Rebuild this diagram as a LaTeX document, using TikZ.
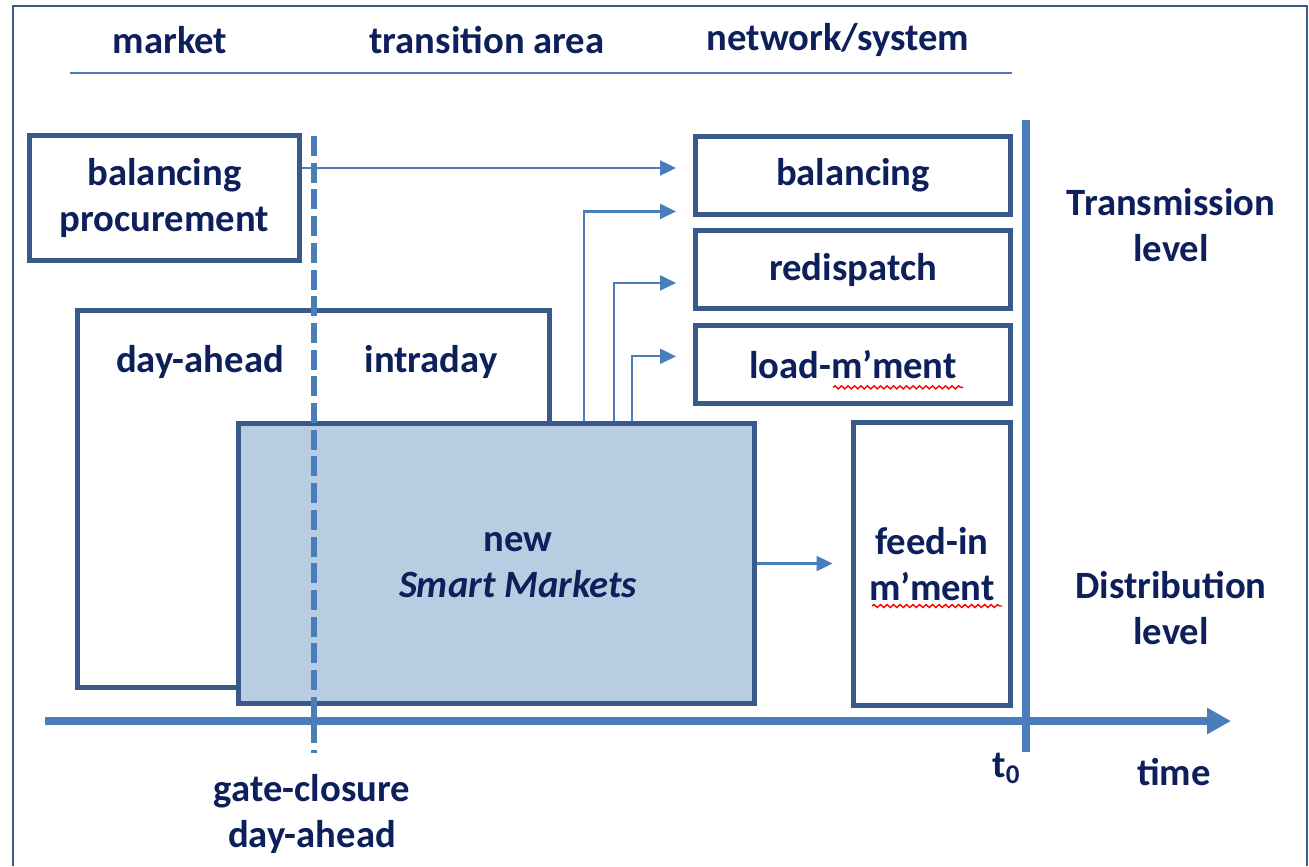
\documentclass[tikz,border=0pt]{standalone}
\usepackage{fontspec}
\setmainfont{Carlito}
\definecolor{TextColor}{RGB}{14,32,92}
\definecolor{BoxColor}{RGB}{56,90,138}
\definecolor{LineColor}{RGB}{74,126,187}
\definecolor{MarketFill}{RGB}{185,205,226}
\usetikzlibrary{positioning, arrows.meta, calc, decorations.pathmorphing}
\tikzset{
  box/.style={rectangle, draw=BoxColor, line width=1.4pt, fill=white, align=center, inner sep=0pt,
    text=TextColor, font=\bfseries\fontsize{11}{13.2}\selectfont},
  heading/.style={align=center, inner sep=0pt, text=TextColor, font=\bfseries\fontsize{11}{13.2}\selectfont},
  flow/.style={LineColor, line width=0.6pt, -{Triangle[length=1.6mm,width=1.5mm]}},
  time axis/.style={LineColor, line width=2.3pt, -{Triangle[length=2.4mm,width=2.5mm]}},
  gate/.style={LineColor, line width=1.6pt, dash pattern=on 2mm off 0.67mm},
  frame/.style={BoxColor, line width=0.6pt},
  typo/.style={red, line width=0.4pt, decorate, decoration={snake, amplitude=0.15mm, segment length=0.65mm}}
}

\begin{document}
\begin{tikzpicture}
  \useasboundingbox (0,0) rectangle (13.09,-8.66);
  % outer frame
  \draw[frame] (0.13,-8.66) |- (13.07,-0.06) -- (13.07,-8.66);

  % column headings
  \node[heading] (market) at (1.70,-0.40) {market};
  \node[heading] (trans) at (4.87,-0.40) {transition area};
  \node[heading] (netsys) at (8.38,-0.40) {network/system};
  \coordinate (hleft) at (0.70,-0.73);
  \coordinate (hright) at (10.12,-0.73);
  \draw[LineColor, line width=0.7pt] (hleft) -- (hright);

  % market side
  \node[box, minimum width=2.70cm, minimum height=1.25cm] (bproc) at (1.645,-1.98) {balancing\\procurement};
  \node[box, minimum width=4.72cm, minimum height=3.77cm] (dabox) at (3.135,-4.99) {};
  \node[heading] (dayahead) at (2.00,-3.62) {day-ahead};
  \node[heading] (intraday) at (4.31,-3.62) {intraday};

  % new smart markets
  \node[box, fill=MarketFill, minimum width=5.16cm, minimum height=2.80cm] (smart) at (4.965,-5.635) {};
  \node[heading] (smarttxt) at (5.18,-5.65) {new\\\textit{Smart Markets}};

  % gate closure
  \coordinate (gtop) at (3.14,-1.36);
  \coordinate (gbot) at (3.14,-7.53);
  \draw[gate] (gtop) -- (gbot);
  \node[heading] (gatelbl) at (3.12,-8.14) {gate-closure\\day-ahead};

  % network / system side
  \node[box, minimum width=3.15cm, minimum height=0.78cm] (bal) at (8.53,-1.755) {balancing};
  \node[box, minimum width=3.15cm, minimum height=0.78cm, below=0.115cm of bal] (redisp) {redispatch};
  \node[box, minimum width=3.15cm, minimum height=0.78cm, below=0.115cm of redisp] (loadm) {load-m’ment};
  \node[box, minimum width=1.57cm, minimum height=2.83cm] (feedin) at (9.32,-5.64) {feed-in\\m’ment};
  \draw[typo] ([xshift=-0.20cm,yshift=-0.23cm]loadm.center) -- ++(1.30,0);
  \draw[typo] ([xshift=-0.60cm,yshift=-0.42cm]feedin.center) -- ++(1.30,0);

  % t0 and time axis
  \coordinate (ttop) at (10.26,-1.20);
  \coordinate (tbot) at (10.26,-7.52);
  \draw[LineColor, line width=2.2pt] (ttop) -- (tbot);
  \coordinate (tstart) at (0.45,-7.21);
  \coordinate (tend) at (12.31,-7.21);
  \draw[time axis] (tstart) -- (tend);
  \node[heading] (tzero) at (10.07,-7.68) {t\textsubscript{0}};
  \node[heading] (time) at (11.74,-7.72) {time};

  % levels
  \node[heading] (trlevel) at (11.71,-2.25) {Transmission\\level};
  \node[heading] (dilevel) at (11.71,-6.08) {Distribution\\level};

  % flows
  \draw[flow, shorten >=1.7mm] ([yshift=0.3cm]bproc.east) -- ([yshift=0.3cm]bproc.east -| bal.west);
  \draw[flow, shorten >=1.7mm] ([xshift=0.875cm]smart.north) |- ([yshift=0.055cm]bal.south west);
  \draw[flow, shorten >=1.7mm] ([xshift=1.175cm]smart.north) |- ([yshift=-0.13cm]redisp.west);
  \draw[flow, shorten >=1.7mm] ([xshift=1.355cm]smart.north) |- ([yshift=0.08cm]loadm.west);
  \draw[flow, shorten >=1.85mm] (smart.east) -- (smart.east -| feedin.west);
\end{tikzpicture}
\end{document}
